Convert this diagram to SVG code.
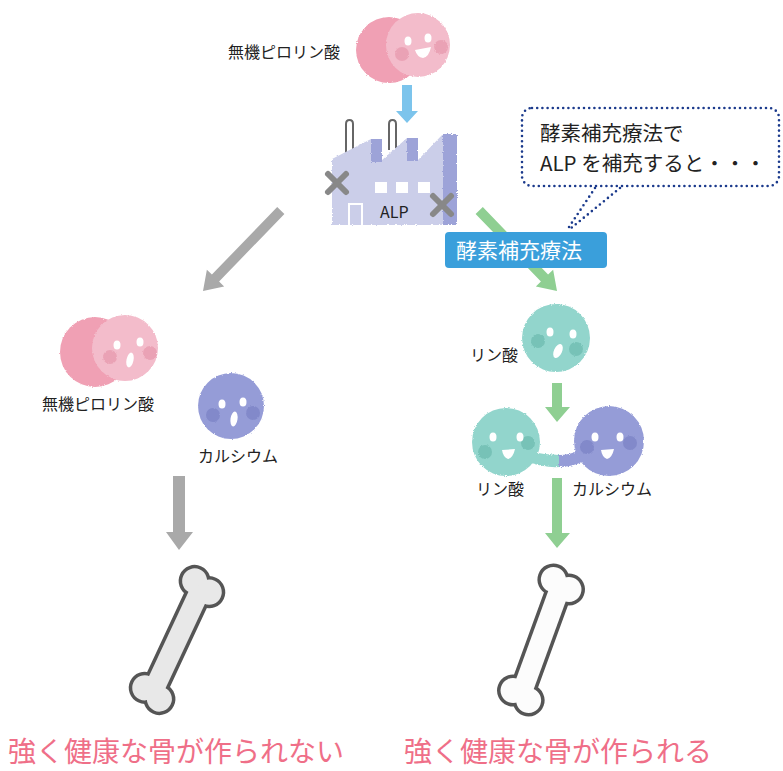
<svg xmlns="http://www.w3.org/2000/svg" width="783" height="771" viewBox="0 0 783 771">
  <defs>
    <style>
      .lbl { font-family: "Noto Sans CJK JP", "Noto Sans", sans-serif; font-size: 16px; fill: #222; }
      .big { font-family: "Noto Sans CJK JP", "Noto Sans", sans-serif; font-size: 28px; fill: #ef6f88; }
      .call { font-family: "Noto Sans CJK JP", "Noto Sans", sans-serif; font-size: 20.5px; fill: #222; }
      .tag { font-family: "Noto Sans CJK JP", "Noto Sans", sans-serif; font-size: 21px; fill: #fff; }
      .gray { fill: #a9a9a9; }
      .green { fill: #8fcf92; }
      .blue { fill: #7cc4ec; }
      .pinkA { fill: #f0a0b4; }
      .pinkB { fill: #f3bccb; }
      .pinkC { fill: #e79aae; opacity: 0.75; }
      .teal { fill: #92d5cc; }
      .tealC { fill: #70bdb2; opacity: 0.8; }
      .purp { fill: #959cd7; }
      .purpC { fill: #7d84c7; opacity: 0.8; }
      .eye { fill: #fff; }
      .dot { fill: none; stroke: #1b3a8c; stroke-width: 2.6; stroke-linecap: round; stroke-dasharray: 0 5.2; }
      .boneO { stroke: #555; stroke-width: 7; }
      .xmark { stroke: #888; stroke-width: 6; stroke-linecap: round; }
      .chim { fill: none; stroke: #666; stroke-width: 2; }
    </style>
    <filter id="fuzz" x="-10%" y="-10%" width="120%" height="120%">
      <feTurbulence type="fractalNoise" baseFrequency="0.9" numOctaves="2" seed="3"/>
      <feDisplacementMap in="SourceGraphic" scale="2.5" xChannelSelector="R" yChannelSelector="G"/>
    </filter>
    <!-- bone drawn vertically around the origin, outline first then fill -->
    <g id="boneShape">
      <rect x="-10" y="-55" width="20" height="110"/>
      <circle cx="-9" cy="-61" r="12.5"/>
      <circle cx="9" cy="-57" r="12.5"/>
      <circle cx="-9" cy="57" r="12.5"/>
      <circle cx="9" cy="61" r="12.5"/>
    </g>
  </defs>

  <rect width="783" height="771" fill="#fff"/>

  <!-- connectors -->
  <g id="connectors">
    <!-- blue arrow into the factory -->
    <polygon class="blue" points="402,85 412,85 412,111 418,111 407,123 396,111 402,111"/>
    <!-- gray diagonal arrow -->
    <g transform="translate(203,291) rotate(44)">
      <polygon class="gray" points="-5,-112 5,-112 5,-18 12,-18 0,0 -12,-18 -5,-18"/>
    </g>
    <!-- green diagonal arrow -->
    <g transform="translate(557,291) rotate(-44)">
      <polygon class="green" points="-5,-112 5,-112 5,-18 12,-18 0,0 -12,-18 -5,-18"/>
    </g>
    <!-- gray down arrow -->
    <polygon class="gray" points="173,476 185,476 185,532 193,532 179,550 166,532 173,532"/>
    <!-- green down arrows -->
    <polygon class="green" points="552,383 562,383 562,407 570,407 557,422 545,407 552,407"/>
    <polygon class="green" points="552,478 562,478 562,533 570,533 557,548 545,533 552,533"/>
  </g>

  <!-- inorganic pyrophosphate (top) -->
  <g id="ppi-top">
    <g filter="url(#fuzz)">
      <circle class="pinkA" cx="389" cy="50" r="33"/>
      <circle class="pinkB" cx="418" cy="45" r="32"/>
      <circle class="pinkC" cx="402" cy="54" r="7"/>
      <circle class="pinkC" cx="441" cy="47" r="7"/>
    </g>
    <ellipse class="eye" cx="408" cy="41" rx="3.5" ry="4.5"/>
    <ellipse class="eye" cx="428" cy="38" rx="3.5" ry="4.5"/>
    <path class="eye" d="M415,50 L431,47 Q429,57 423,58 Q417,57 415,50 Z"/>
    <text class="lbl" x="228" y="58">無機ピロリン酸</text>
  </g>

  <!-- factory (ALP) -->
  <g id="factory">
    <path class="chim" d="M346,160 V124 Q346,120 349.5,120 Q353,120 353,124 V160"/>
    <path class="chim" d="M389,150 V124 Q389,120 392.5,120 Q396,120 396,124 V150"/>
    <g filter="url(#fuzz)">
      <polygon fill="#cbcee9" points="332,159 371,139 382,139 382,160 407,138 418,138 418,160 443,134 457,134 457,225 332,225"/>
      <polygon fill="#9da3d8" points="371,139 382,139 382,162 371,162"/>
      <polygon fill="#9da3d8" points="407,138 418,138 418,161 407,161"/>
      <polygon fill="#9da3d8" points="443,134 457,134 457,225 443,225"/>
    </g>
    <rect x="375" y="182" width="12" height="11" fill="#fff"/>
    <rect x="396" y="182" width="12" height="11" fill="#fff"/>
    <rect x="418" y="182" width="12" height="11" fill="#fff"/>
    <path d="M349,225 V204 H362 V225" fill="none" stroke="#fff" stroke-width="2"/>
    <text class="lbl" x="380" y="218">ALP</text>
    <g class="xmark">
      <line x1="328" y1="174" x2="346" y2="192"/>
      <line x1="346" y1="174" x2="328" y2="192"/>
      <line x1="433" y1="196" x2="451" y2="214"/>
      <line x1="451" y1="196" x2="433" y2="214"/>
    </g>
  </g>

  <!-- speech balloon -->
  <g id="balloon">
    <rect class="dot" x="522" y="108" width="257" height="78" rx="10"/>
    <line class="dot" x1="595" y1="188" x2="567" y2="230"/>
    <line class="dot" x1="620" y1="188" x2="570" y2="229"/>
    <text class="call" x="540" y="141">酵素補充療法で</text>
    <text class="call" x="540" y="171">ALP を補充すると・・・</text>
  </g>

  <!-- enzyme replacement therapy tag -->
  <g id="therapy-tag">
    <rect x="445" y="232" width="162" height="36" rx="4" fill="#3a9fdb"/>
    <text class="tag" x="456" y="258">酵素補充療法</text>
  </g>

  <!-- inorganic pyrophosphate (left) -->
  <g id="ppi-left">
    <g filter="url(#fuzz)">
      <circle class="pinkA" cx="95" cy="352" r="35"/>
      <circle class="pinkB" cx="125" cy="348" r="33"/>
      <circle class="pinkC" cx="110" cy="357" r="7"/>
      <circle class="pinkC" cx="150" cy="353" r="7"/>
    </g>
    <ellipse class="eye" cx="117" cy="345" rx="3.5" ry="4.5"/>
    <ellipse class="eye" cx="140" cy="342" rx="3.5" ry="4.5"/>
    <ellipse class="eye" cx="130" cy="360" rx="3.5" ry="7.5" transform="rotate(12 130 360)"/>
    <text class="lbl" x="42" y="410">無機ピロリン酸</text>
  </g>

  <!-- calcium (left) -->
  <g id="calcium-left">
    <g filter="url(#fuzz)">
      <circle class="purp" cx="231" cy="406" r="33"/>
      <circle class="purpC" cx="213" cy="415" r="7"/>
      <circle class="purpC" cx="253" cy="413" r="7"/>
    </g>
    <ellipse class="eye" cx="222" cy="404" rx="3.5" ry="4.5"/>
    <ellipse class="eye" cx="243" cy="402" rx="3.5" ry="4.5"/>
    <ellipse class="eye" cx="234" cy="419" rx="3.5" ry="7.5" transform="rotate(8 234 419)"/>
    <text class="lbl" x="198" y="462">カルシウム</text>
  </g>

  <!-- phosphate (right top) -->
  <g id="phosphate-top">
    <g filter="url(#fuzz)">
      <circle class="teal" cx="556" cy="338" r="34"/>
      <circle class="tealC" cx="538" cy="341" r="7"/>
      <circle class="tealC" cx="576" cy="349" r="7"/>
    </g>
    <ellipse class="eye" cx="550" cy="332" rx="3.5" ry="4.5"/>
    <ellipse class="eye" cx="573" cy="334" rx="3.5" ry="4.5"/>
    <ellipse class="eye" cx="558" cy="351" rx="4" ry="7.5" transform="rotate(25 558 351)"/>
    <text class="lbl" x="470" y="361">リン酸</text>
  </g>

  <!-- phosphate bound to calcium -->
  <g id="phosphate-calcium">
    <g filter="url(#fuzz)">
      <path class="teal" d="M532,452 Q546,455 560,455 L560,467 Q544,468 528,462 Z"/>
      <path class="purp" d="M559,455 Q570,455 580,450 L584,461 Q572,467 559,467 Z"/>
      <circle class="teal" cx="506" cy="442" r="34"/>
      <circle class="purp" cx="609" cy="441" r="35"/>
      <circle class="tealC" cx="485" cy="452" r="7"/>
      <circle class="tealC" cx="528" cy="443" r="7"/>
      <circle class="purpC" cx="587" cy="447" r="7"/>
      <circle class="purpC" cx="630" cy="443" r="7"/>
    </g>
    <ellipse class="eye" cx="493" cy="437" rx="3.5" ry="4.5"/>
    <ellipse class="eye" cx="520" cy="437" rx="3.5" ry="4.5"/>
    <path class="eye" d="M502,450 L515,449 Q513,458 508,459 Q503,457 502,450 Z"/>
    <ellipse class="eye" cx="595" cy="437" rx="3.5" ry="4.5"/>
    <ellipse class="eye" cx="620" cy="437" rx="3.5" ry="4.5"/>
    <path class="eye" d="M601,450 L614,449 Q612,458 607,459 Q602,457 601,450 Z"/>
    <text class="lbl" x="476" y="495">リン酸</text>
    <text class="lbl" x="572" y="495">カルシウム</text>
  </g>

  <!-- weak bone -->
  <g id="bone-left" transform="translate(177,640) rotate(25)">
    <use href="#boneShape" class="boneO" fill="#555"/>
    <use href="#boneShape" fill="#e8e8e8"/>
  </g>

  <!-- strong bone -->
  <g id="bone-right" transform="translate(541,640) rotate(20)">
    <use href="#boneShape" class="boneO" fill="#555"/>
    <use href="#boneShape" fill="#fcfcfc"/>
  </g>

  <!-- outcomes -->
  <g id="outcome-left">
    <text class="big" x="8" y="762">強く健康な骨が作られない</text>
  </g>
  <g id="outcome-right">
    <text class="big" x="404" y="762">強く健康な骨が作られる</text>
  </g>
</svg>
